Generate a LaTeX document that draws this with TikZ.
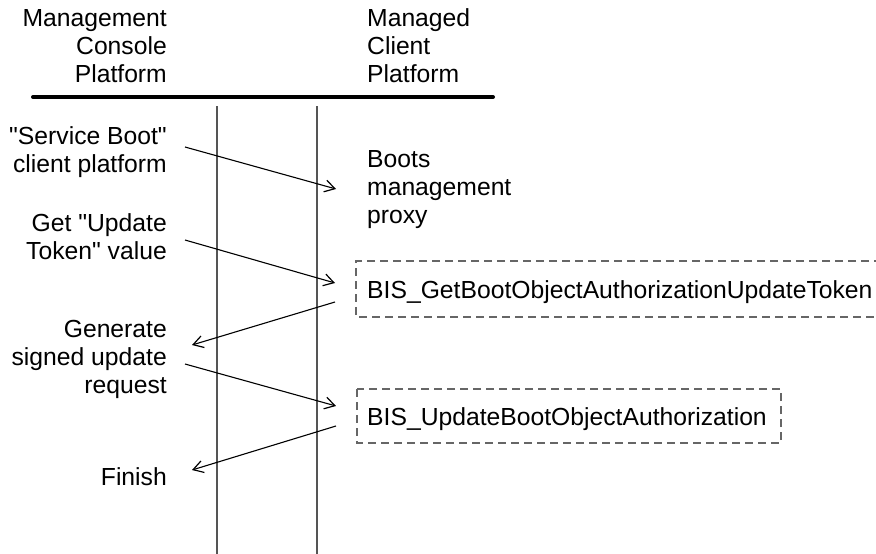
\documentclass[tikz,border=0pt]{standalone}
\usepackage{fontspec}
\setmainfont{Liberation Sans}
\usetikzlibrary{arrows.meta}
\definecolor{lifegray}{HTML}{555555}
\definecolor{dashgray}{HTML}{666666}
\newcommand\linesR[1]{\begin{tabular}[t]{@{}r@{}}#1\end{tabular}}
\newcommand\linesL[1]{\begin{tabular}[t]{@{}l@{}}#1\end{tabular}}
\newcommand\dq{\textquotedbl}
\begin{document}
\begin{tikzpicture}[x=1pt,y=-1pt,
  lbl/.style={inner sep=0pt,font=\fontsize{24.7}{28}\selectfont},
  lblR/.style={lbl,anchor=base east},
  lblL/.style={lbl,anchor=base west},
  lifeline/.style={draw=lifegray,line width=1.3pt},
  msg/.style={draw=black,line width=1.1pt,-{Straight Barb[length=10pt,width=12pt,line width=1.2pt]}},
  callbox/.style={draw=dashgray,line width=1.3pt,dash pattern=on 8pt off 5pt}]
\useasboundingbox (0,0) rectangle (876,554);

% platform headings and separator bar
\node[lblR] (console) at (167,27) {\linesR{Management\\Console\\Platform}};
\node[lblL] (client) at (367,27) {\linesL{Managed\\Client\\Platform}};
\coordinate (barL) at (33,97);
\coordinate (barR) at (493,97);
\draw[line width=4pt,line cap=round] (barL) -- (barR);

% lifelines
\coordinate (lifeAtop) at (217,106);
\coordinate (lifeAbot) at (217,554);
\coordinate (lifeBtop) at (317,106);
\coordinate (lifeBbot) at (317,554);
\draw[lifeline] (lifeAtop) -- (lifeAbot);
\draw[lifeline] (lifeBtop) -- (lifeBbot);

% console side steps
\node[lblR] (svcboot) at (167,144) {\linesR{\dq Service Boot\dq\\client platform}};
\node[lblR] (gettok) at (167,231) {\linesR{Get \dq Update\\Token\dq{} value}};
\node[lblR] (gensign) at (167,337) {\linesR{Generate\\signed update\\request}};
\node[lblR] (finish) at (167,485) {Finish};

% client side steps
\node[lblL] (proxy) at (367,167) {\linesL{Boots\\management\\proxy}};
\node[lblL] (gettokcall) at (367,298) {BIS\_GetBootObjectAuthorizationUpdateToken};
\node[lblL] (updcall) at (367,425) {BIS\_UpdateBootObjectAuthorization};

% dashed call frames
\draw[callbox] (882,261) -- (356,261) -- (356,317) -- (882,317);
\draw[callbox] (357,389) rectangle (781,443);

% messages
\coordinate (m1s) at (185,147); \coordinate (m1e) at (336,189);
\coordinate (m2s) at (185,240); \coordinate (m2e) at (335,283);
\coordinate (m3s) at (335,302); \coordinate (m3e) at (192,345);
\coordinate (m4s) at (185,364); \coordinate (m4e) at (336,406);
\coordinate (m5s) at (336,426); \coordinate (m5e) at (192,470);
\draw[msg] (m1s) -- (m1e);
\draw[msg] (m2s) -- (m2e);
\draw[msg] (m3s) -- (m3e);
\draw[msg] (m4s) -- (m4e);
\draw[msg] (m5s) -- (m5e);
\end{tikzpicture}
\end{document}
